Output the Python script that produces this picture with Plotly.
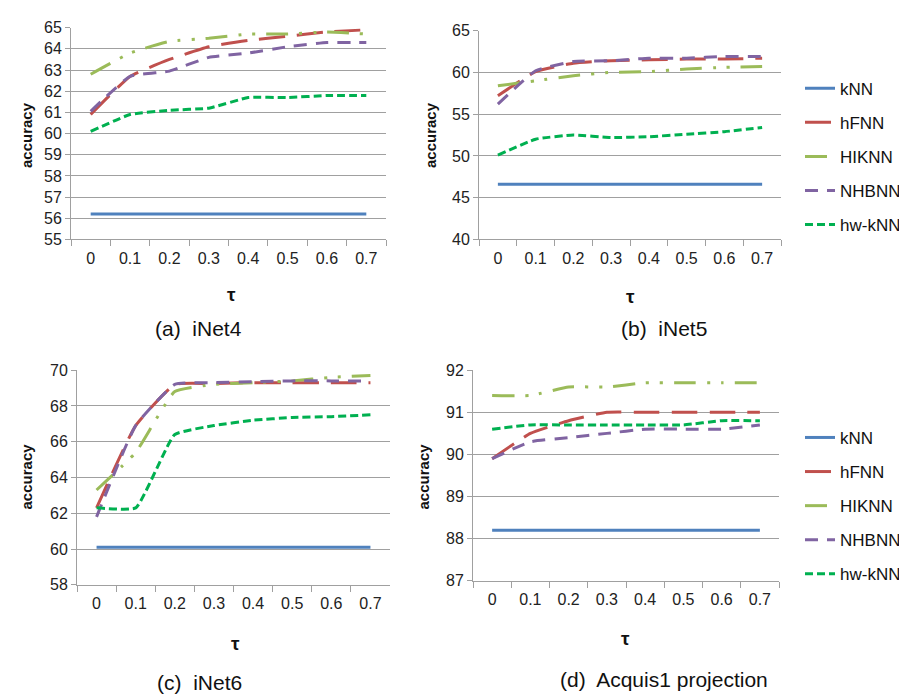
import plotly.graph_objects as go

W, H = 907, 697

tau_labels = ["0", "0.1", "0.2", "0.3", "0.4", "0.5", "0.6", "0.7"]
series_names = ["kNN", "hFNN", "HIKNN", "NHBNN", "hw-kNN"]

# (a) iNet4
inet4_knn = [56.2, 56.2, 56.2, 56.2, 56.2, 56.2, 56.2, 56.2]
inet4_hfnn = [60.9, 62.7, 63.5, 64.1, 64.4, 64.6, 64.8, 64.9]
inet4_hiknn = [62.8, 63.8, 64.35, 64.5, 64.7, 64.7, 64.8, 64.7]
inet4_nhbnn = [61.05, 62.7, 62.95, 63.6, 63.8, 64.1, 64.3, 64.3]
inet4_hwknn = [60.1, 60.9, 61.1, 61.2, 61.7, 61.7, 61.8, 61.8]

# (b) iNet5
inet5_knn = [46.6, 46.6, 46.6, 46.6, 46.6, 46.6, 46.6, 46.6]
inet5_hfnn = [57.2, 60.1, 61.1, 61.4, 61.5, 61.6, 61.6, 61.7]
inet5_hiknn = [58.4, 59.0, 59.6, 60.0, 60.1, 60.4, 60.6, 60.7]
inet5_nhbnn = [56.2, 60.2, 61.3, 61.4, 61.7, 61.7, 61.9, 61.9]
inet5_hwknn = [50.1, 52.0, 52.5, 52.2, 52.3, 52.6, 52.9, 53.4]

# (c) iNet6
inet6_knn = [60.1, 60.1, 60.1, 60.1, 60.1, 60.1, 60.1, 60.1]
inet6_hfnn = [62.3, 66.9, 69.2, 69.25, 69.3, 69.3, 69.3, 69.3]
inet6_hiknn = [63.3, 65.4, 68.8, 69.2, 69.3, 69.4, 69.6, 69.7]
inet6_nhbnn = [61.8, 66.9, 69.2, 69.3, 69.35, 69.4, 69.4, 69.4]
inet6_hwknn = [62.3, 62.3, 66.4, 66.9, 67.2, 67.35, 67.4, 67.5]

# (d) Acquis1 projection
acq_knn = [88.2, 88.2, 88.2, 88.2, 88.2, 88.2, 88.2, 88.2]
acq_hfnn = [89.9, 90.5, 90.8, 91.0, 91.0, 91.0, 91.0, 91.0]
acq_hiknn = [91.4, 91.4, 91.6, 91.6, 91.7, 91.7, 91.7, 91.7]
acq_nhbnn = [89.9, 90.3, 90.4, 90.5, 90.6, 90.6, 90.6, 90.7]
acq_hwknn = [90.6, 90.7, 90.7, 90.7, 90.7, 90.7, 90.8, 90.8]

panels = [
    dict(key="a", data=[inet4_knn, inet4_hfnn, inet4_hiknn, inet4_nhbnn, inet4_hwknn],
         yrange=[55, 65], dtick=1, px=(63, 378), py=(12, 229), legend=None),
    dict(key="b", data=[inet5_knn, inet5_hfnn, inet5_hiknn, inet5_nhbnn, inet5_hwknn],
         yrange=[40, 65], dtick=5, px=(471, 773), py=(15, 229), legend="legend"),
    dict(key="c", data=[inet6_knn, inet6_hfnn, inet6_hiknn, inet6_nhbnn, inet6_hwknn],
         yrange=[58, 70], dtick=2, px=(69, 382), py=(363, 583), legend=None),
    dict(key="d", data=[acq_knn, acq_hfnn, acq_hiknn, acq_nhbnn, acq_hwknn],
         yrange=[87, 92], dtick=1, px=(465, 771), py=(363, 579), legend="legend2"),
]

colors = ["#4F81BD", "#C0504D", "#9BBB59", "#8064A2", "#00B050"]
dashes = ["solid", "26px,12px", "22px,11px,3px,11px,3px,11px", "13px,9px", "8px,4px"]

fig = go.Figure()
tick_font = dict(family="Liberation Sans, Arial, sans-serif", size=16, color="#222222")
grid_col = "#A0A0A0"

for i, p in enumerate(panels):
    sfx = "" if i == 0 else str(i + 1)
    xa, ya = "x" + sfx, "y" + sfx
    for j, name in enumerate(series_names):
        tr = dict(
            x=tau_labels, y=p["data"][j], name=name, mode="lines",
            xaxis=xa, yaxis=ya,
            line=dict(color=colors[j], width=3, dash=dashes[j],
                      shape="spline", smoothing=0.4),
            hoverinfo="x+y+name",
        )
        if p["legend"]:
            tr["legend"] = p["legend"]
            tr["legendgroup"] = name + "_" + p["key"]
            tr["showlegend"] = True
        else:
            tr["showlegend"] = False
        fig.add_trace(go.Scatter(**tr))
    x0, x1 = p["px"]
    y0, y1 = p["py"]
    fig.layout["xaxis" + sfx] = dict(
        domain=[x0 / W, x1 / W], anchor=ya, type="category",
        range=[-0.5, 7.5], tickson="boundaries", ticks="outside", ticklen=6,
        tickcolor=grid_col, showline=True, linecolor=grid_col, linewidth=1,
        showgrid=False, tickfont=tick_font, ticklabelstandoff=4, fixedrange=True,
    )
    fig.layout["yaxis" + sfx] = dict(
        domain=[1 - y1 / H, 1 - y0 / H], anchor=xa,
        range=p["yrange"], dtick=p["dtick"], tick0=p["yrange"][0],
        ticks="outside", ticklen=5, tickcolor=grid_col,
        showline=True, linecolor=grid_col, linewidth=1,
        showgrid=True, gridcolor=grid_col, gridwidth=1,
        zeroline=False, tickfont=tick_font, fixedrange=True,
    )

def ann(text, x, y, size, bold=False, angle=0, family="Liberation Sans, Arial, sans-serif"):
    fig.add_annotation(
        text=("<b>%s</b>" % text) if bold else text,
        x=x / W, y=1 - y / H, xref="paper", yref="paper",
        xanchor="center", yanchor="middle", showarrow=False, textangle=angle,
        font=dict(family=family, size=size, color="#111111"),
    )

# axis titles
for (x, y) in [(18, 122), (422, 122), (18, 472), (415, 472)]:
    ann("accuracy", x, y, 15, bold=True, angle=-90)
for (x, y) in [(223, 285), (622, 287), (227, 643), (617, 638)]:
    ann("τ", x, y, 19, bold=True)

# captions
caps = [("(a)  iNet4", 190, 320), ("(b)  iNet5", 656, 320),
        ("(c)  iNet6", 191, 683), ("(d)  Acquis1 projection", 656, 680)]
for t, x, y in caps:
    ann(t, x, y, 21)

leg_common = dict(
    xanchor="left", yanchor="top", traceorder="grouped", tracegroupgap=9,
    font=dict(family="Liberation Sans, Arial, sans-serif", size=17, color="#111111"),
    bgcolor="rgba(0,0,0,0)", borderwidth=0, itemwidth=30,
)
fig.update_layout(
    width=W, height=H, margin=dict(l=0, r=0, t=0, b=0),
    paper_bgcolor="white", plot_bgcolor="white",
    legend=dict(x=792 / W, y=1 - 56 / H, **leg_common),
    legend2=dict(x=792 / W, y=1 - 414 / H, **leg_common),
    showlegend=True,
)

fig.write_html("out.html")
